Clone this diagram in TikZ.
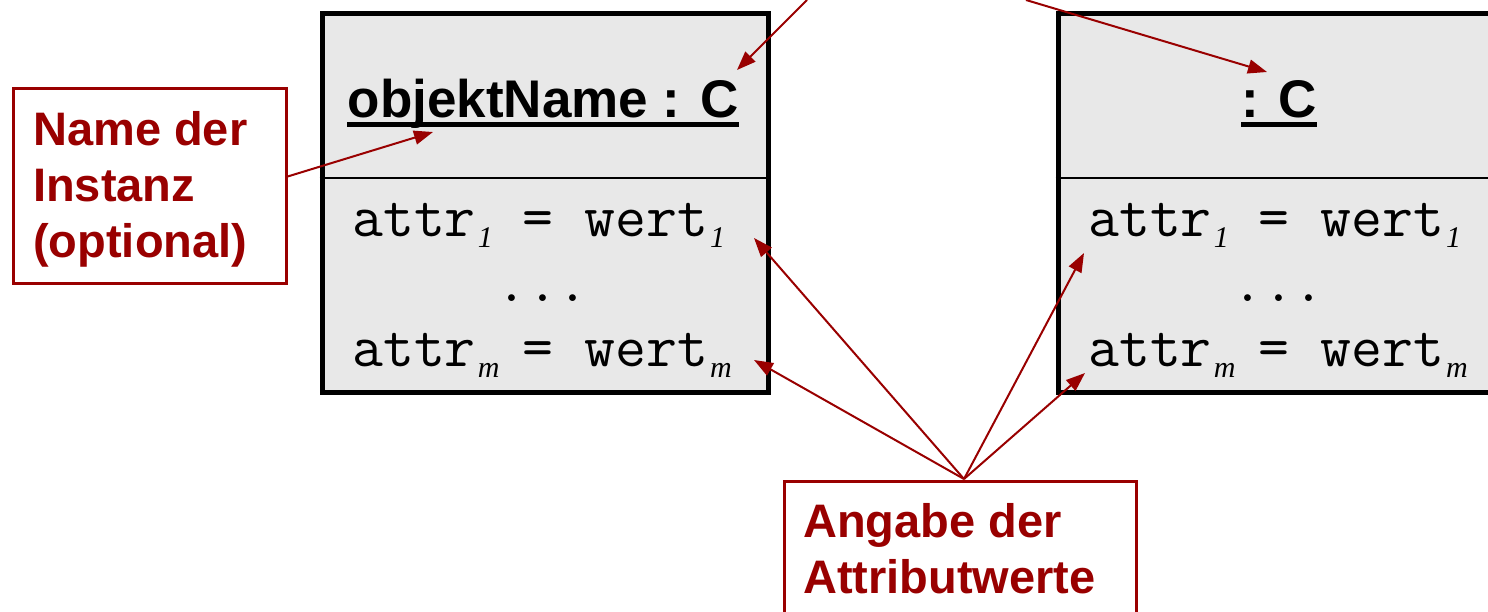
\documentclass[tikz,border=0pt]{standalone}
\usepackage{fontspec}
\setmainfont{Liberation Sans}
\newfontfamily\serf{Liberation Serif}
\usetikzlibrary{arrows.meta}
\definecolor{dred}{RGB}{153,0,0}
\definecolor{objgray}{RGB}{232,232,232}
\newcommand{\subx}[1]{\makebox[16pt][l]{\hspace{2pt}\raisebox{-11pt}{\fontsize{30}{30}\serf\itshape #1}}}
\begin{document}
\begin{tikzpicture}[x=1pt,y=-1pt,
  objbox/.style={draw=black, line width=5pt, fill=objgray, rectangle, inner sep=0pt,
    minimum width=446.5pt, minimum height=379pt, anchor=north west},
  divider/.style={draw=black, line width=2.5pt},
  titletext/.style={inner sep=0pt, anchor=base, font=\fontsize{53}{60}\selectfont\bfseries},
  attrtext/.style={inner sep=0pt, anchor=base west, font=\fontsize{60}{66}\selectfont\ttfamily},
  dotstext/.style={inner sep=0pt, anchor=base, font=\fontsize{60}{66}\selectfont\ttfamily},
  notebox/.style={draw=dred, line width=3pt, fill=white, rectangle, inner sep=0pt, anchor=north west},
  notetext/.style={inner sep=0pt, anchor=base west, text=dred, font=\fontsize{47}{56}\selectfont\bfseries},
  conn/.style={draw=dred, line width=2pt, -{Triangle[length=19pt,width=14pt]}}
]
\useasboundingbox (0,0) rectangle (1488,611);
\clip (0,0) rectangle (1488,611);

% object boxes
\node[objbox] (objL) at (319.5,10.5) {};
\node[objbox] (objR) at (1055.5,10.5) {};
\coordinate (divY) at (0,178);
\draw[divider] (objL.west |- divY) -- (objL.east |- divY);
\draw[divider] (objR.west |- divY) -- (objR.east |- divY);

% titles
\node[titletext] (tL) at (543,117) {objektName : C};
\node[titletext] (tR) at (1279,117) {: C};
\draw[line width=5pt] ([yshift=-7.5pt]tL.base west) -- ([yshift=-7.5pt]tL.base east);
\draw[line width=5pt] ([yshift=-7.5pt]tR.base west) -- ([yshift=-7.5pt]tR.base east);

% attributes
\node[attrtext] (aL1) at (352,236) {attr\subx{1} = wert\subx{1}};
\node[dotstext] (dL) at (542.5,301) {...};
\node[attrtext] (aLm) at (352,366) {attr\subx{m} = wert\subx{m}};
\node[attrtext] (aR1) at (1088,236) {attr\subx{1} = wert\subx{1}};
\node[dotstext] (dR) at (1278.5,301) {...};
\node[attrtext] (aRm) at (1088,366) {attr\subx{m} = wert\subx{m}};

% note boxes
\node[notebox, minimum width=273pt, minimum height=195pt] (inst) at (11.5,86.5) {};
\node[notetext] (inst1) at (33,145) {Name der};
\node[notetext] (inst2) at (33,201) {Instanz};
\node[notetext] (inst3) at (33,257) {(optional)};

\node[notebox, minimum width=352pt, minimum height=200pt] (ang) at (782.5,479.5) {};
\node[notetext] (ang1) at (803,537) {Angabe der};
\node[notetext] (ang2) at (803,593) {Attributwerte};

% connector end points
\coordinate (instSrc) at (286,177);
\coordinate (instTip) at (433,132);
\coordinate (topSrcA) at (807,0);
\coordinate (tipA) at (737,70);
\coordinate (topSrcB) at (1026,0);
\coordinate (tipB) at (1267,72);
\coordinate (angSrc) at (964,479);
\coordinate (tipL1) at (754,238);
\coordinate (tipLm) at (754,360);
\coordinate (tipR1) at (1084,253);
\coordinate (tipRm) at (1085,373);

\draw[conn] (instSrc) -- (instTip);
\draw[conn] (topSrcA) -- (tipA);
\draw[conn] (topSrcB) -- (tipB);
\draw[conn] (angSrc) -- (tipL1);
\draw[conn] (angSrc) -- (tipLm);
\draw[conn] (angSrc) -- (tipR1);
\draw[conn] (angSrc) -- (tipRm);
\end{tikzpicture}
\end{document}
